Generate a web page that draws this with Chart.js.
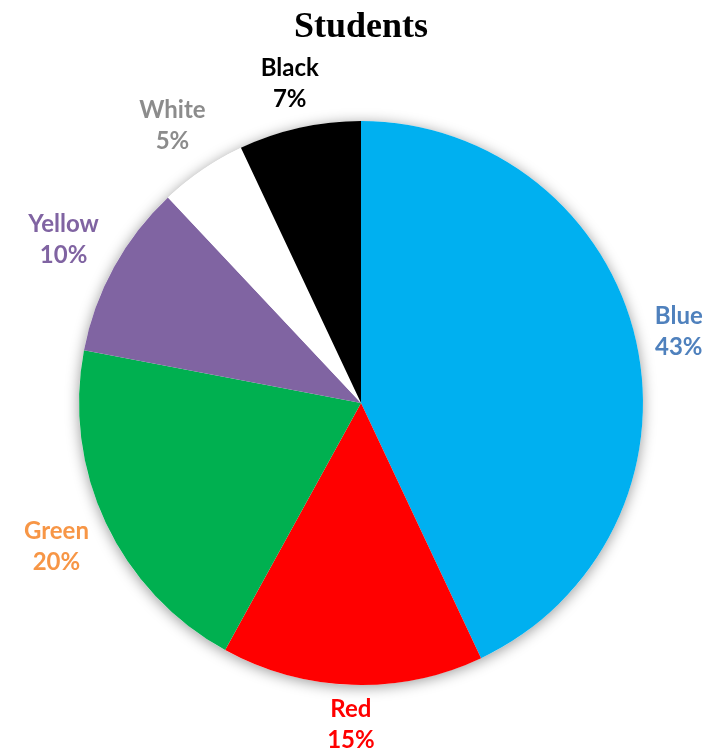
<!DOCTYPE html>
<html>
<head>
<meta charset="utf-8">
<script src="https://cdn.jsdelivr.net/npm/chart.js@4/dist/chart.umd.min.js"></script>
<style>
  html, body { margin: 0; padding: 0; background: #fff; }
  #wrap { width: 712px; height: 749px; position: relative; }
</style>
</head>
<body>
<div id="wrap"><canvas id="c" width="712" height="749"></canvas></div>
<script>
const categories = ['Blue', 'Red', 'Green', 'Yellow', 'White', 'Black'];
const shares = [43, 15, 20, 10, 5, 7];
const sliceColors = ['#00B0F0', '#FF0000', '#00B050', '#8064A2', '#FFFFFF', '#000000'];
const labelColors = ['#4F81BD', '#FF0000', '#F79646', '#8064A2', '#8C8C8C', '#000000'];
const chartTitle = 'Students';

// soft drop shadow under the whole pie
const pieShadow = {
  id: 'pieShadow',
  beforeDatasetsDraw(chart) {
    const arc = chart.getDatasetMeta(0).data[0];
    if (!arc) return;
    const ctx = chart.ctx;
    ctx.save();
    ctx.shadowColor = 'rgba(0,0,0,0.4)';
    ctx.shadowBlur = 14;
    ctx.shadowOffsetX = 0;
    ctx.shadowOffsetY = 2;
    ctx.fillStyle = '#ffffff';
    ctx.beginPath();
    ctx.arc(arc.x, arc.y, arc.outerRadius, 0, Math.PI * 2);
    ctx.fill();
    ctx.restore();
  }
};

// category name and percentage outside each slice, plus the title
const outsideLabels = {
  id: 'outsideLabels',
  afterDatasetsDraw(chart) {
    const ctx = chart.ctx;
    const meta = chart.getDatasetMeta(0);
    const total = shares.reduce((a, b) => a + b, 0);
    const lineH = 31;
    ctx.save();
    ctx.font = 'bold 24px Lato, "Open Sans", sans-serif';
    ctx.textAlign = 'center';
    ctx.textBaseline = 'middle';
    meta.data.forEach((arc, i) => {
      const mid = (arc.startAngle + arc.endAngle) / 2;
      const dx = Math.cos(mid), dy = Math.sin(mid);
      const line1 = categories[i];
      const line2 = Math.round(shares[i] / total * 100) + '%';
      const halfW = Math.max(ctx.measureText(line1).width, ctx.measureText(line2).width) / 2;
      const halfH = 24;
      const dist = arc.outerRadius + 15 + halfW * Math.abs(dx) + halfH * Math.abs(dy);
      const cx = arc.x + dx * dist;
      const cy = arc.y + dy * dist;
      ctx.fillStyle = labelColors[i];
      ctx.fillText(line1, cx, cy - lineH / 2);
      ctx.fillText(line2, cx, cy + lineH / 2);
    });
    ctx.font = 'bold 36px "Liberation Serif", "Times New Roman", serif';
    ctx.fillStyle = '#000000';
    ctx.textBaseline = 'alphabetic';
    ctx.fillText(chartTitle, 361, 37);
    ctx.restore();
  }
};

new Chart(document.getElementById('c'), {
  type: 'pie',
  data: {
    labels: categories,
    datasets: [{
      data: shares,
      backgroundColor: sliceColors,
      borderWidth: 0,
      hoverOffset: 0
    }]
  },
  options: {
    responsive: false,
    animation: false,
    events: [],
    layout: { padding: { top: 121, bottom: 64, left: 79, right: 69 } },
    plugins: {
      legend: { display: false },
      tooltip: { enabled: false },
      title: { display: false }
    }
  },
  plugins: [pieShadow, outsideLabels]
});
</script>
</body>
</html>
